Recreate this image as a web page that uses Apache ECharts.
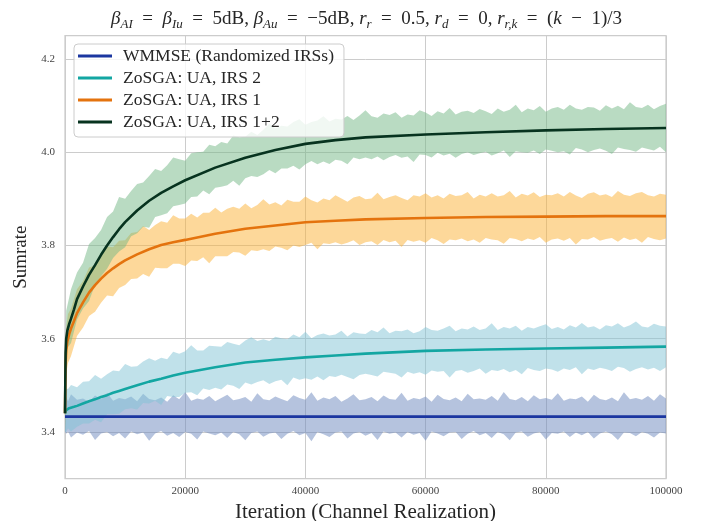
<!DOCTYPE html>
<html><head><meta charset="utf-8">
<script src="https://cdn.jsdelivr.net/npm/echarts@6/dist/echarts.min.js"></script>
<style>html,body{margin:0;padding:0;background:#fff}#c{width:702px;height:521px}</style>
</head><body><div id="c"></div>
<script>
// ---- data ----
const seriesNames = ['WMMSE (Randomized IRSs)', 'ZoSGA: UA, IRS 2', 'ZoSGA: UA, IRS 1', 'ZoSGA: UA, IRS 1+2'];
const xTicks = [0, 20000, 40000, 60000, 80000, 100000];
const yTicks = [3.4, 3.6, 3.8, 4.0, 4.2];

const lineX = [0,100,200,400,700,1000,1500,2000,3000,4000,5000,6000,7000,8000,9000,10000,12000,14000,16000,18000,20000,25000,30000,35000,40000,45000,50000,60000,70000,80000,90000,100000];
const wmmseMean = [3.433,3.433,3.433,3.433,3.433,3.433,3.433,3.433,3.433,3.433,3.433,3.433,3.433,3.433,3.433,3.433,3.433,3.433,3.433,3.433,3.433,3.433,3.433,3.433,3.433,3.433,3.433,3.433,3.433,3.433,3.433,3.433];
const irs2Mean = [3.440,3.444,3.447,3.449,3.451,3.452,3.454,3.456,3.461,3.466,3.470,3.475,3.479,3.484,3.488,3.492,3.500,3.508,3.514,3.521,3.527,3.539,3.549,3.555,3.560,3.564,3.568,3.574,3.577,3.579,3.581,3.583];
const irs1Mean = [3.440,3.545,3.575,3.595,3.610,3.622,3.638,3.655,3.678,3.699,3.715,3.729,3.741,3.751,3.760,3.768,3.781,3.792,3.801,3.807,3.812,3.825,3.836,3.843,3.850,3.853,3.856,3.859,3.861,3.862,3.863,3.863];
const irs12Mean = [3.440,3.570,3.600,3.618,3.632,3.643,3.663,3.685,3.712,3.737,3.758,3.780,3.800,3.818,3.835,3.850,3.875,3.896,3.913,3.927,3.940,3.967,3.988,4.005,4.018,4.026,4.032,4.038,4.043,4.047,4.050,4.052];

const bandX = [0,200,500,1000,2000,3000,4000,5000,6000,7000,8000,9000,10000,11000,12000,13000,14000,15000,16000,17000,18000,19000,20000,21000,22000,23000,24000,25000,26000,27000,28000,29000,30000,31000,32000,33000,34000,35000,36000,37000,38000,39000,40000,41000,42000,43000,44000,45000,46000,47000,48000,49000,50000,51000,52000,53000,54000,55000,56000,57000,58000,59000,60000,61000,62000,63000,64000,65000,66000,67000,68000,69000,70000,71000,72000,73000,74000,75000,76000,77000,78000,79000,80000,81000,82000,83000,84000,85000,86000,87000,88000,89000,90000,91000,92000,93000,94000,95000,96000,97000,98000,99000,100000];

const wmmseUpper = [3.470,3.475,3.466,3.481,3.469,3.472,3.465,3.478,3.470,3.484,
 3.467,3.473,3.470,3.476,3.466,3.482,3.471,3.468,3.474,3.465,
 3.479,3.470,3.486,3.467,3.472,3.469,3.477,3.466,3.473,3.480,
 3.468,3.471,3.475,3.465,3.483,3.470,3.468,3.476,3.471,3.466,
 3.479,3.473,3.469,3.485,3.467,3.474,3.470,3.477,3.465,3.472,
 3.481,3.468,3.470,3.475,3.466,3.478,3.471,3.469,3.484,3.467,
 3.473,3.470,3.476,3.465,3.480,3.471,3.468,3.474,3.466,3.482,
 3.470,3.472,3.469,3.477,3.467,3.486,3.471,3.468,3.475,3.466,
 3.479,3.470,3.473,3.469,3.483,3.467,3.472,3.470,3.476,3.465,
 3.480,3.471,3.468,3.474,3.466,3.485,3.470,3.473,3.469,3.477,
 3.467,3.481,3.472];
const wmmseLower = [3.400,3.396,3.401,3.388,3.399,3.394,3.402,3.383,3.397,3.400,
 3.391,3.398,3.386,3.401,3.395,3.399,3.381,3.397,3.402,3.392,
 3.398,3.389,3.400,3.396,3.384,3.401,3.397,3.393,3.399,3.387,
 3.400,3.395,3.382,3.398,3.401,3.390,3.397,3.399,3.385,3.396,
 3.402,3.393,3.398,3.380,3.400,3.395,3.389,3.399,3.401,3.386,
 3.397,3.400,3.392,3.398,3.383,3.401,3.396,3.399,3.388,3.400,
 3.394,3.398,3.381,3.401,3.397,3.391,3.399,3.400,3.385,3.396,
 3.402,3.393,3.398,3.387,3.400,3.395,3.382,3.399,3.401,3.390,
 3.397,3.400,3.384,3.398,3.396,3.401,3.389,3.399,3.393,3.400,
 3.386,3.397,3.401,3.395,3.383,3.399,3.398,3.391,3.400,3.396,
 3.388,3.399,3.397];

const irs2Upper = [3.470,3.493,3.492,3.501,3.496,3.508,3.509,3.522,3.514,3.524,
 3.532,3.530,3.546,3.540,3.541,3.551,3.558,3.553,3.559,3.556,
 3.572,3.568,3.573,3.586,3.575,3.575,3.585,3.584,3.583,3.593,
 3.589,3.586,3.596,3.603,3.595,3.599,3.595,3.604,3.601,3.599,
 3.609,3.603,3.615,3.601,3.608,3.611,3.607,3.609,3.617,3.605,
 3.614,3.611,3.610,3.619,3.614,3.624,3.612,3.617,3.616,3.620,
 3.612,3.616,3.625,3.619,3.617,3.622,3.628,3.616,3.622,3.620,
 3.626,3.619,3.622,3.633,3.619,3.625,3.622,3.628,3.617,3.625,
 3.622,3.627,3.631,3.621,3.625,3.620,3.629,3.624,3.634,3.624,
 3.627,3.620,3.629,3.626,3.633,3.624,3.629,3.637,3.626,3.624,
 3.632,3.628,3.626];
const irs2Lower = [3.400,3.401,3.408,3.401,3.411,3.418,3.418,3.426,3.421,3.438,
 3.438,3.439,3.449,3.451,3.448,3.462,3.461,3.467,3.458,3.477,
 3.475,3.475,3.484,3.485,3.479,3.493,3.490,3.495,3.491,3.502,
 3.499,3.492,3.506,3.502,3.507,3.511,3.503,3.509,3.512,3.500,
 3.517,3.512,3.515,3.512,3.519,3.511,3.520,3.518,3.523,3.518,
 3.513,3.522,3.525,3.522,3.519,3.529,3.527,3.525,3.517,3.529,
 3.525,3.528,3.523,3.532,3.529,3.531,3.517,3.531,3.533,3.527,
 3.531,3.536,3.525,3.533,3.531,3.535,3.528,3.533,3.524,3.537,
 3.533,3.531,3.536,3.534,3.529,3.536,3.533,3.539,3.524,3.536,
 3.533,3.538,3.535,3.531,3.540,3.537,3.529,3.535,3.539,3.534,
 3.538,3.531,3.539];

const irs1Upper = [3.480,3.623,3.653,3.665,3.706,3.724,3.753,3.757,3.778,3.798,
 3.796,3.810,3.811,3.827,3.829,3.842,3.833,3.844,3.852,3.849,
 3.865,3.858,3.858,3.868,3.860,3.870,3.870,3.881,3.871,3.879,
 3.883,3.879,3.890,3.880,3.887,3.899,3.888,3.893,3.886,3.898,
 3.894,3.894,3.905,3.897,3.892,3.901,3.897,3.908,3.901,3.894,
 3.903,3.906,3.899,3.901,3.913,3.899,3.904,3.908,3.902,3.897,
 3.908,3.905,3.912,3.903,3.908,3.901,3.911,3.906,3.908,3.915,
 3.901,3.909,3.905,3.912,3.905,3.908,3.917,3.903,3.911,3.907,
 3.914,3.904,3.909,3.908,3.912,3.905,3.915,3.907,3.902,3.911,
 3.914,3.907,3.910,3.904,3.917,3.909,3.906,3.912,3.915,3.908,
 3.905,3.911,3.909];
const irs1Lower = [3.400,3.525,3.548,3.563,3.606,3.624,3.649,3.658,3.677,3.693,
 3.691,3.709,3.715,3.728,3.729,3.739,3.733,3.752,3.751,3.751,
 3.761,3.761,3.756,3.768,3.767,3.775,3.762,3.777,3.777,3.777,
 3.786,3.785,3.778,3.790,3.788,3.792,3.788,3.798,3.795,3.790,
 3.800,3.797,3.801,3.806,3.792,3.805,3.803,3.807,3.802,3.806,
 3.811,3.801,3.807,3.809,3.801,3.812,3.807,3.810,3.797,3.812,
 3.808,3.811,3.806,3.816,3.811,3.803,3.813,3.811,3.815,3.809,
 3.813,3.806,3.816,3.813,3.811,3.804,3.816,3.814,3.809,3.815,
 3.812,3.818,3.806,3.813,3.815,3.810,3.816,3.802,3.814,3.813,
 3.818,3.810,3.814,3.816,3.808,3.817,3.812,3.815,3.806,3.818,
 3.814,3.811,3.815];

const irs12Upper = [3.480,3.660,3.677,3.706,3.742,3.763,3.803,3.816,3.833,3.861,
 3.873,3.904,3.900,3.917,3.932,3.935,3.949,3.964,3.960,3.972,
 3.989,3.985,3.982,3.998,4.000,4.001,4.016,4.013,4.022,4.019,
 4.036,4.032,4.033,4.044,4.037,4.048,4.061,4.051,4.057,4.055,
 4.065,4.071,4.059,4.065,4.068,4.077,4.066,4.072,4.070,4.078,
 4.069,4.079,4.090,4.077,4.074,4.083,4.080,4.086,4.074,4.081,
 4.079,4.090,4.085,4.078,4.088,4.083,4.095,4.081,4.087,4.089,
 4.084,4.093,4.088,4.082,4.094,4.087,4.091,4.102,4.086,4.094,
 4.090,4.099,4.087,4.094,4.097,4.091,4.102,4.094,4.091,4.097,
 4.096,4.089,4.101,4.094,4.100,4.092,4.107,4.097,4.095,4.102,
 4.092,4.099,4.104];
const irs12Lower = [3.400,3.551,3.582,3.591,3.641,3.665,3.681,3.716,3.734,3.750,
 3.773,3.787,3.796,3.820,3.826,3.840,3.838,3.861,3.865,3.869,
 3.884,3.887,3.890,3.904,3.905,3.918,3.910,3.924,3.926,3.929,
 3.939,3.928,3.944,3.949,3.947,3.953,3.962,3.955,3.965,3.965,
 3.971,3.963,3.974,3.981,3.974,3.980,3.975,3.984,3.982,3.974,
 3.989,3.985,3.989,3.985,3.991,3.983,3.990,3.994,3.988,3.991,
 3.979,3.995,3.994,3.989,3.999,3.993,3.997,3.988,3.996,4.000,
 3.994,3.998,4.001,3.993,3.998,4.004,3.990,4.002,4.000,3.999,
 4.004,3.996,4.006,4.003,4.000,4.002,3.995,4.009,4.006,4.000,
 4.005,4.008,4.003,3.996,4.010,4.007,4.005,4.001,4.010,4.007,
 4.004,4.012,4.000];

// ---- styling ----
const SERIF = '"Liberation Serif", "DejaVu Serif", serif';
const lineColors = ['#1b36a0', '#13a6a2', '#e4730e', '#07331f'];
const bandColors = ['#6b87bd', '#81c3d5', '#fbb135', '#73b785'];

const means = [wmmseMean, irs2Mean, irs1Mean, irs12Mean];
const uppers = [wmmseUpper, irs2Upper, irs1Upper, irs12Upper];
const lowers = [wmmseLower, irs2Lower, irs1Lower, irs12Lower];

const series = [];
for (let s = 0; s < 4; s++) {
  series.push({
    type: 'custom', name: 'band' + s, z: 1, silent: true, clip: true,
    encode: { x: 0, y: 1 },
    data: bandX.map((x, i) => [x, uppers[s][i]]),
    renderItem: function (params, api) {
      if (params.dataIndex !== 0) return null;
      const pts = [];
      for (let i = 0; i < bandX.length; i++) pts.push(api.coord([bandX[i], uppers[s][i]]));
      for (let i = bandX.length - 1; i >= 0; i--) pts.push(api.coord([bandX[i], lowers[s][i]]));
      return { type: 'polygon', shape: { points: pts }, style: { fill: bandColors[s], opacity: 0.5 } };
    }
  });
}
for (let s = 0; s < 4; s++) {
  series.push({
    type: 'line', name: seriesNames[s], z: 3,
    data: lineX.map((x, i) => [x, means[s][i]]),
    symbol: 'none', showSymbol: false, color: lineColors[s],
    lineStyle: { width: 2.6, color: lineColors[s] }
  });
}

const chart = echarts.init(document.getElementById('c'), null, { renderer: 'canvas' });
const base = { fontFamily: SERIF, fontSize: 19, fontWeight: 'normal', color: '#262626', lineHeight: 24 };
const E = '\u2002';
chart.setOption({
  animation: false,
  backgroundColor: '#ffffff',
  title: {
    text: '{i|β}{s|AI}{n|' + E + '=' + E + '}{i|β}{s|Iu}{n|' + E + '=' + E + '5dB, }{i|β}{s|Au}{n|' + E + '=' + E + '−5dB, }{i|r}{s|r}{n|' + E + '=' + E + '0.5, }{i|r}{s|d}{n|' + E + '=' + E + '0, }{i|r}{s|r,k}{n|' + E + '=' + E + '(}{i|k}{n|' + E + '−' + E + '1)/3}',
    left: 111, top: 7, padding: 0,
    textStyle: {
      fontWeight: 'normal',
      rich: {
        n: Object.assign({}, base),
        i: Object.assign({}, base, { fontStyle: 'italic' }),
        s: { fontFamily: SERIF, fontSize: 13, fontStyle: 'italic', fontWeight: 'normal', color: '#262626', verticalAlign: 'bottom' }
      }
    }
  },
  legend: {
    data: seriesNames.map(n => ({ name: n, icon: 'rect' })),
    orient: 'vertical', left: 74, top: 44,
    itemWidth: 34, itemHeight: 3, itemGap: 0,
    padding: [1, 10, 4, 4], z: 10,
    backgroundColor: 'rgba(255,255,255,0.8)', borderColor: '#cccccc', borderWidth: 1, borderRadius: 4,
    textStyle: { fontFamily: SERIF, fontSize: 17.5, color: '#262626', lineHeight: 22, padding: [0, 0, 0, 6] }
  },
  grid: { left: 65, right: 36, top: 35.7, bottom: 42.4, outerBoundsMode: 'none', containLabel: false,
          show: true, borderColor: '#cccccc', borderWidth: 1.25, backgroundColor: 'transparent' },
  xAxis: {
    type: 'value', min: xTicks[0], max: xTicks[xTicks.length - 1], interval: xTicks[1] - xTicks[0],
    name: 'Iteration (Channel Realization)', nameLocation: 'middle', nameGap: 23,
    nameTextStyle: { fontFamily: SERIF, fontSize: 21, color: '#262626' },
    axisLine: { show: false }, axisTick: { show: false },
    axisLabel: { fontFamily: SERIF, fontSize: 11, color: '#444444', margin: 7,
      formatter: function (v) { return String(Math.round(v)); } },
    splitLine: { show: true, lineStyle: { color: '#cccccc', width: 1 } }
  },
  yAxis: {
    type: 'value', min: 3.3, max: 4.25, interval: 0.1,
    name: 'Sumrate', nameLocation: 'middle', nameGap: 34,
    nameTextStyle: { fontFamily: SERIF, fontSize: 19, color: '#262626' },
    axisLine: { show: false }, axisTick: { show: false },
    axisLabel: {
      fontFamily: SERIF, fontSize: 11, color: '#444444', margin: 10,
      formatter: function (v) {
        const hit = yTicks.find(t => Math.abs(t - v) < 1e-6);
        return hit === undefined ? '' : hit.toFixed(1);
      }
    },
    splitLine: { show: true, lineStyle: { color: ['rgba(0,0,0,0)', '#cccccc'], width: 1 } }
  },
  series: series
});
</script>
</body></html>
